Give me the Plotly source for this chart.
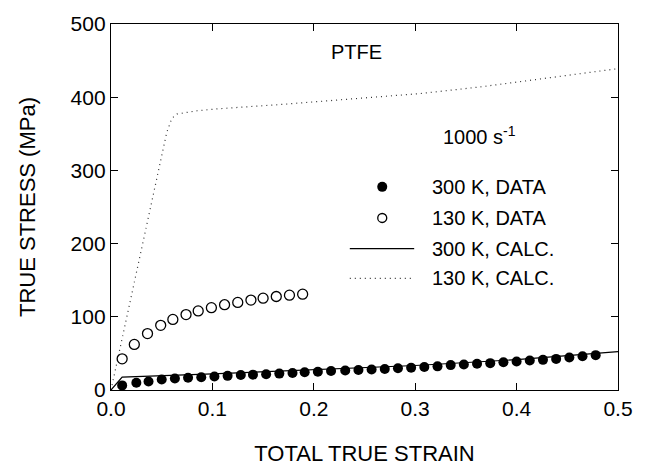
import plotly.graph_objects as go

# 300 K measured data (filled circles)
strain_300_data = [0.011, 0.025, 0.037, 0.050, 0.063, 0.076, 0.089, 0.102, 0.115,
                   0.128, 0.140, 0.153, 0.166, 0.179, 0.191, 0.204, 0.217, 0.231,
                   0.244, 0.257, 0.270, 0.283, 0.296, 0.309, 0.322, 0.335, 0.348,
                   0.361, 0.374, 0.387, 0.400, 0.413, 0.426, 0.439, 0.452, 0.465, 0.478]
stress_300_data = [6.3, 9.9, 11.7, 14.4, 15.7, 16.7, 17.5, 18.4, 19.3,
                   20.6, 21.0, 21.5, 22.4, 23.3, 24.2, 25.0, 26.0, 26.7,
                   27.3, 28.0, 28.7, 29.6, 30.5, 31.4, 32.3, 34.0, 34.9,
                   35.8, 36.7, 38.0, 38.9, 40.3, 41.2, 42.5, 44.3, 46.0, 47.6]

# 130 K measured data (open circles)
strain_130_data = [0.011, 0.023, 0.036, 0.049, 0.061, 0.074, 0.086, 0.099,
                   0.112, 0.125, 0.138, 0.150, 0.163, 0.176, 0.189]
stress_130_data = [42.6, 62.3, 77.1, 88.3, 96.4, 103.0, 108.0, 112.5,
                   116.5, 119.6, 122.8, 125.5, 127.7, 129.6, 130.9]

# 300 K model curve (solid)
strain_300_calc = [0.0, 0.011, 0.1, 0.2, 0.3, 0.4, 0.5]
stress_300_calc = [0.0, 17.5, 22.0, 27.5, 33.5, 41.5, 52.5]

# 130 K model curve (dotted)
strain_130_calc = [0.0, 0.024, 0.042, 0.055, 0.060, 0.065, 0.085, 0.104,
                   0.167, 0.305, 0.364, 0.5]
stress_130_calc = [0.0, 154.0, 270.0, 352.0, 371.0, 377.0, 381.5, 384.0,
                   390.0, 405.0, 414.0, 439.0]

x_ticks = [0.0, 0.1, 0.2, 0.3, 0.4, 0.5]
y_ticks = [0, 100, 200, 300, 400, 500]

legend_labels = ["300 K, DATA", "130 K, DATA", "300 K, CALC.", "130 K, CALC."]

FONT = "Liberation Sans, Arial, Helvetica, sans-serif"
DOT = "1px,4px"

fig = go.Figure()

fig.add_trace(go.Scatter(x=strain_130_calc, y=stress_130_calc, mode="lines",
                         line=dict(color="#333333", width=1.2, dash=DOT),
                         showlegend=False))
fig.add_trace(go.Scatter(x=strain_300_calc, y=stress_300_calc, mode="lines",
                         line=dict(color="black", width=1.2),
                         showlegend=False))
fig.add_trace(go.Scatter(x=strain_300_data, y=stress_300_data, mode="markers",
                         marker=dict(symbol="circle", size=10, color="black",
                                     line=dict(width=0)),
                         showlegend=False))
fig.add_trace(go.Scatter(x=strain_130_data, y=stress_130_data, mode="markers",
                         marker=dict(symbol="circle-open", size=10, color="black",
                                     line=dict(width=1.3)),
                         showlegend=False))

# hand-placed key, in paper coordinates
shapes = []
annotations = []
row_y = [0.555, 0.470, 0.386, 0.305]
mark_x = 0.535
line_x0, line_x1 = 0.471, 0.598
text_x = 0.630

# filled marker
shapes.append(dict(type="circle", xref="paper", yref="paper",
                   xsizemode="pixel", ysizemode="pixel",
                   xanchor=mark_x, yanchor=row_y[0],
                   x0=-5, x1=5, y0=-5, y1=5,
                   fillcolor="black", line=dict(color="black", width=0)))
# open marker
shapes.append(dict(type="circle", xref="paper", yref="paper",
                   xsizemode="pixel", ysizemode="pixel",
                   xanchor=mark_x, yanchor=row_y[1],
                   x0=-4.5, x1=4.5, y0=-4.5, y1=4.5,
                   fillcolor="white", line=dict(color="black", width=1.3)))
# solid line sample
shapes.append(dict(type="line", xref="paper", yref="paper",
                   x0=line_x0, x1=line_x1, y0=row_y[2], y1=row_y[2],
                   line=dict(color="black", width=1.2)))
# dotted line sample
shapes.append(dict(type="line", xref="paper", yref="paper",
                   x0=line_x0, x1=line_x1, y0=row_y[3], y1=row_y[3],
                   line=dict(color="#333333", width=1.2, dash=DOT)))

for label, yy in zip(legend_labels, row_y):
    annotations.append(dict(text=label, xref="paper", yref="paper",
                            x=text_x, y=yy, xanchor="left", yanchor="middle",
                            showarrow=False, font=dict(size=20, color="black")))

annotations.append(dict(text="PTFE", x=0.242, y=462, xref="x", yref="y",
                        xanchor="center", yanchor="middle", showarrow=False,
                        font=dict(size=20, color="black")))
annotations.append(dict(text="1000 s<sup>-1</sup>", x=0.325, y=348, xref="x", yref="y",
                        xanchor="left", yanchor="middle", showarrow=False,
                        font=dict(size=20, color="black")))

axis_common = dict(showgrid=False, zeroline=False, showline=True,
                   linecolor="black", linewidth=1.3, mirror="ticks",
                   ticks="inside", ticklen=7, tickwidth=1.3, tickcolor="black",
                   tickfont=dict(size=21, color="black"))

fig.update_layout(
    width=646, height=474,
    margin=dict(l=111, r=28, t=19, b=83),
    paper_bgcolor="white", plot_bgcolor="white",
    font=dict(family=FONT, color="black"),
    shapes=shapes, annotations=annotations,
    xaxis=dict(range=[0, 0.5], tickvals=x_ticks,
               ticktext=[f"{v:.1f}" for v in x_ticks],
               title=dict(text="TOTAL TRUE STRAIN", font=dict(size=22), standoff=26),
               **axis_common),
    yaxis=dict(range=[0, 500], tickvals=y_ticks,
               title=dict(text="TRUE STRESS (MPa)", font=dict(size=22), standoff=28),
               **axis_common),
)

fig.write_html("out.html")
